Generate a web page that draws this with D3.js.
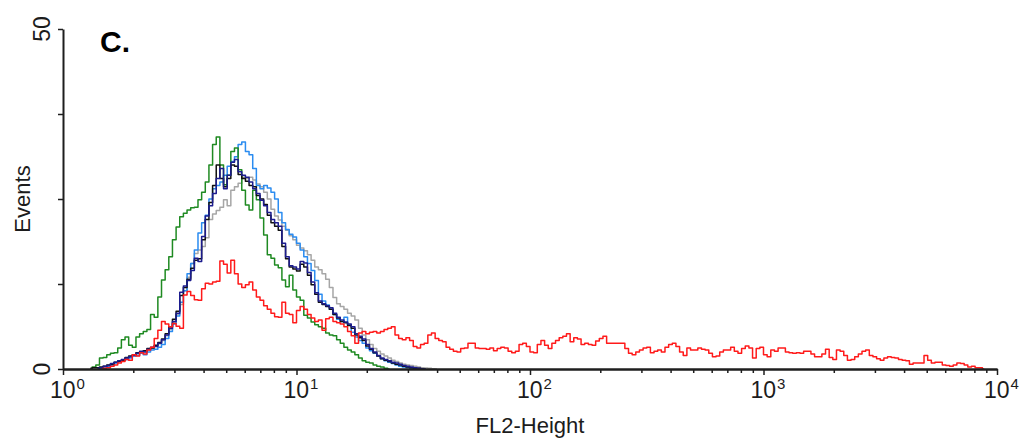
<!DOCTYPE html>
<html>
<head>
<meta charset="utf-8">
<script src="https://cdn.jsdelivr.net/npm/d3@7"></script>
<style>
  body { margin: 0; background: #fff; }
  svg { display: block; font-family: "Liberation Sans", Arial, sans-serif; }
</style>
</head>
<body>
<svg id="chart" width="1028" height="438"></svg>
<script>
// FL2-Height histograms: 256 log channels over 4 decades (64 channels per decade).
const channelsPerDecade = 64;
const xDecades = [1, 10, 100, 1000, 10000];
const xDecadeLabels = ["0", "1", "2", "3", "4"];   // exponents of the 10^n labels
const yTicks = [0, 12.5, 25, 37.5, 50];
const yTickLabels = ["0", "", "", "", "50"];

// Event counts per channel; each array starts at the given channel.
const grayStart = 9;
const grayCounts = [
  0, 0.1, 0.3, 0.5, 0.7, 0.9, 1.1, 1.3, 1.5, 1.8, 2.1,
  2.2, 2.4, 2.6, 2.8, 3.1, 3.4, 3.7, 4.2, 4.9, 5.8,
  6.8, 8.0, 9.5, 11.5, 13.5, 15.5, 17.0, 17.5, 18.0, 19.3,
  22.0, 22.8, 23.3, 23.8, 24.9, 24.0, 26.3, 26.8, 27.3, 28.2,
  28.0, 28.2, 27.8, 27.2, 26.8, 26.0, 25.0, 23.5, 22.5, 21.9,
  21.0, 20.4, 19.6, 19.0, 18.2, 17.8, 17.4, 16.8, 16.0, 15.0,
  14.6, 14.0, 13.2, 12.0, 10.5, 9.6, 9.2, 8.8, 8.2, 7.8,
  7.2, 6.0, 5.0, 4.3, 3.6, 3.0, 2.6, 2.2, 1.9, 1.6,
  1.3, 1.1, 0.9, 0.7, 0.6, 0.5, 0.4, 0.3, 0.2, 0.15,
  0.1, 0.05, 0
];

const lightBlueStart = 9;
const lightBlueCounts = [
  0, 0.1, 0.3, 0.4, 0.5, 0.9, 1.2, 1.3, 1.4, 1.6, 1.9,
  2.0, 2.3, 2.1, 2.5, 2.8, 2.9, 3.2, 3.6, 4.5, 5.5,
  6.6, 7.8, 9.8, 11.5, 14.0, 15.5, 17.5, 20.0, 21.5, 22.6,
  25.0, 26.5, 27.0, 27.5, 28.5, 29.8, 30.5, 31.2, 33.0, 33.4,
  32.0, 31.5, 29.5, 27.0, 26.5, 27.0, 26.6, 26.0, 25.0, 23.0,
  21.5, 20.5, 19.8, 19.4, 18.5, 17.5, 16.5, 15.5, 14.5, 13.0,
  11.0, 10.0, 9.4, 8.8, 8.0, 7.3, 7.0, 7.6, 6.5, 5.4,
  4.7, 4.2, 3.8, 3.1, 2.7, 2.3, 1.9, 1.5, 1.2, 1.0,
  0.8, 0.6, 0.4, 0.3, 0.2, 0.1, 0
];

const greenStart = 7;
const greenCounts = [
  0, 0.3, 0.6, 1.6, 1.7, 2.1, 2.3, 2.4, 3.1, 4.3, 4.7,
  3.5, 3.2, 4.7, 5.2, 5.5, 5.8, 8.0, 7.6, 10.6, 13.1,
  14.6, 16.5, 19.0, 20.9, 22.4, 22.9, 23.4, 23.7, 23.8, 24.9,
  26.0, 27.5, 30.0, 33.0, 34.1, 30.0, 27.1, 28.5, 32.0, 32.5,
  29.3, 26.3, 24.1, 23.4, 26.3, 24.9, 22.2, 19.7, 16.8, 16.3,
  15.3, 14.9, 13.1, 12.1, 13.8, 11.6, 10.6, 10.1, 7.9, 7.5,
  6.9, 6.5, 6.2, 6.0, 5.3, 5.0, 4.9, 4.3, 3.8, 3.2,
  2.8, 2.5, 2.1, 1.6, 1.2, 1.0, 0.9, 0.6, 0.4, 0.3,
  0.1, 0
];

const blackStart = 7;
const blackCounts = [
  0.1, 0.2, 0.2, 0.3, 0.4, 0.6, 0.7, 1.0, 1.1, 1.3, 1.7,
  1.9, 2.1, 2.4, 2.5, 2.7, 3.0, 3.1, 3.5, 3.9, 4.4,
  5.2, 6.2, 7.3, 8.5, 10.8, 12.0, 13.2, 14.8, 16.0, 16.2,
  19.0, 22.0, 24.5, 27.0, 30.0, 28.0, 26.8, 28.0, 30.0, 29.8,
  28.6, 28.0, 27.6, 27.0, 26.8, 25.5, 25.0, 24.2, 22.6, 21.5,
  21.0, 20.4, 18.0, 16.2, 15.0, 14.7, 14.4, 15.4, 15.0, 13.8,
  12.4, 11.0, 9.8, 9.5, 9.2, 8.8, 8.0, 7.5, 7.0, 6.8,
  6.4, 6.0, 5.0, 4.6, 4.2, 3.4, 2.9, 2.4, 1.9, 1.5,
  1.3, 1.1, 0.9, 0.7, 0.6, 0.4, 0.3, 0.2, 0.1, 0.1,
  0
];

const navyStart = 9;
const navyCounts = [
  0.1, 0.2, 0.4, 0.5, 0.8, 1.0, 1.2, 1.4, 1.6, 1.8, 2.0,
  2.3, 2.6, 2.5, 2.9, 3.2, 3.3, 3.8, 4.3, 5.0, 6.0,
  7.0, 8.2, 11.3, 12.2, 13.0, 14.5, 16.3, 15.8, 19.5, 22.5,
  24.0, 25.8, 28.0, 29.5, 26.5, 28.5, 30.4, 30.8, 29.0, 28.5,
  28.2, 27.5, 26.5, 25.8, 24.8, 24.0, 23.0, 22.0, 21.5, 21.0,
  18.5, 16.5, 15.2, 15.0, 14.7, 15.8, 15.6, 14.2, 12.8, 11.2,
  10.0, 9.6, 9.3, 9.0, 8.2, 7.6, 7.2, 6.9, 6.6, 6.2,
  5.2, 4.8, 4.4, 3.6, 3.0, 2.5, 2.0, 1.6, 1.4, 1.2,
  1.0, 0.9, 0.7, 0.5, 0.4, 0.3, 0.2, 0.1, 0.05, 0
];

const redStart = 10;
const redCounts = [
  0, 0.1, 0.2, 0.4, 0.6, 0.9, 1.1, 1.4, 1.3, 2.1,
  1.9, 2.4, 2.2, 2.8, 3.2, 4.5, 5.7, 7.0, 6.6, 6.2,
  6.7, 6.3, 6.0, 10.9, 11.4, 10.8, 10.2, 10.1, 11.8, 12.6,
  12.5, 12.8, 12.9, 15.9, 15.4, 14.1, 16.0, 14.0, 12.5, 12.0,
  12.4, 12.8, 11.6, 10.6, 10.1, 9.3, 8.8, 8.2, 7.7, 7.6,
  9.8, 8.2, 8.0, 6.8, 8.6, 9.2, 8.8, 8.0, 7.5, 7.0,
  7.2, 5.7, 7.4, 7.6, 7.0, 6.8, 6.6, 6.2, 5.5, 4.9,
  3.8, 5.3, 5.5, 5.2, 5.4, 5.5, 5.3, 5.5, 5.8, 6.0,
  6.2, 5.0, 4.5, 4.3, 4.6, 4.2, 3.3, 3.1, 3.6, 3.8,
  5.0, 5.3, 4.5, 4.2, 4.0, 3.2, 2.9, 2.6, 2.5, 3.0,
  3.1, 3.8, 3.8, 3.1, 3.0, 3.0, 2.9, 3.1, 2.7, 3.0,
  3.2, 3.1, 2.6, 2.4, 2.6, 3.6, 3.8, 3.3, 2.5, 2.4,
  3.6, 4.2, 3.5, 3.0, 3.8, 4.2, 4.6, 4.8, 5.2, 4.0,
  4.6, 4.4, 3.6, 3.8, 3.6, 3.5, 4.1, 4.5, 4.8, 3.8,
  3.8, 3.8, 3.8, 3.8, 3.0, 2.3, 2.1, 2.5, 2.8, 3.1,
  3.2, 2.4, 2.6, 2.8, 2.5, 3.2, 3.6, 3.8, 3.3, 2.5,
  2.0, 3.1, 2.8, 2.8, 3.1, 2.9, 2.8, 2.3, 1.8, 1.9,
  2.5, 2.8, 2.8, 3.2, 2.6, 2.3, 3.0, 3.4, 3.1, 1.6,
  3.0, 3.2, 2.1, 1.8, 2.8, 2.6, 3.1, 3.1, 2.5, 2.4,
  2.3, 2.4, 2.3, 2.6, 2.6, 2.2, 1.8, 1.8, 2.2, 2.9,
  1.7, 1.4, 2.8, 2.6, 2.0, 1.3, 1.4, 1.8, 2.2, 2.6,
  2.8, 2.0, 1.8, 1.5, 1.3, 1.6, 1.8, 1.7, 1.6, 1.4,
  1.3, 1.2, 0.7, 0.9, 0.9, 0.9, 2.0, 1.3, 0.9, 1.0,
  1.0, 0.6, 0.5, 0.4, 0.6, 0.9, 0.8, 0.6, 0.3, 0.4,
  0.2, 0.2, 0
];

// Drawing order (last on top) and stroke colours.
const series = [
  { start: grayStart,      counts: grayCounts,      color: "#a6a6a6" },
  { start: lightBlueStart, counts: lightBlueCounts, color: "#2b8cf0" },
  { start: greenStart,     counts: greenCounts,     color: "#1f8a22" },
  { start: blackStart,     counts: blackCounts,     color: "#111111" },
  { start: navyStart,      counts: navyCounts,      color: "#1c1c8e" },
  { start: redStart,       counts: redCounts,       color: "#ff1a1a" }
];

const svg = d3.select("#chart");
const x = d3.scaleLog().domain([1, 10000]).range([63, 997]);
const y = d3.scaleLinear().domain([0, 50]).range([369, 29]);
// channel centre on the log axis
const channelValue = ch => Math.pow(10, (ch + 0.5) / channelsPerDecade);

// Histogram traces drawn as channel steps
const line = d3.line()
  .x(d => x(channelValue(d.ch)))
  .y(d => y(d.v))
  .curve(d3.curveStep);

const traces = svg.append("g").attr("class", "traces");
series.forEach(s => {
  const pts = s.counts.map((v, k) => ({ ch: s.start + k, v }));
  traces.append("path")
    .datum(pts)
    .attr("fill", "none")
    .attr("stroke", s.color)
    .attr("stroke-width", 1.5)
    .attr("stroke-linejoin", "round")
    .attr("d", line);
});

// Axes
const minorTicks = [];
xDecades.slice(0, -1).forEach(d => { for (let k = 2; k <= 9; k++) minorTicks.push(d * k); });

const axisColor = "#1e1e1e";
const gxMinor = svg.append("g").attr("transform", "translate(0,369)")
  .call(d3.axisBottom(x).tickValues(minorTicks).tickSize(4).tickSizeOuter(0).tickFormat(""));
const gx = svg.append("g").attr("transform", "translate(0,369)")
  .call(d3.axisBottom(x).tickValues(xDecades).tickSize(6).tickSizeOuter(0).tickFormat(""));
const gy = svg.append("g").attr("transform", "translate(63,0)")
  .call(d3.axisLeft(y).tickValues(yTicks).tickSize(5).tickSizeOuter(0).tickFormat(""));

[gxMinor, gx, gy].forEach(g => {
  g.selectAll("path.domain").attr("stroke", axisColor).attr("stroke-width", 2);
  g.selectAll(".tick line").attr("stroke", axisColor).attr("stroke-width", 1.5);
});

const textColor = "#1c1c1c";

// x tick labels: 10 with superscript exponent
xDecades.forEach((d, i) => {
  const t = svg.append("text")
    .attr("x", x(d) - 13)
    .attr("y", 398)
    .attr("fill", textColor)
    .attr("font-size", 23);
  t.append("tspan").text("10");
  t.append("tspan")
    .attr("dx", 1)
    .attr("dy", -9)
    .attr("font-size", 15)
    .text(xDecadeLabels[i]);
});

// y tick labels, rotated
yTicks.forEach((v, i) => {
  if (!yTickLabels[i]) return;
  svg.append("text")
    .attr("transform", `translate(50,${y(v)}) rotate(-90)`)
    .attr("text-anchor", "middle")
    .attr("fill", textColor)
    .attr("font-size", 23)
    .text(yTickLabels[i]);
});

// Axis titles
svg.append("text")
  .attr("x", 530).attr("y", 433)
  .attr("text-anchor", "middle")
  .attr("fill", textColor)
  .attr("font-size", 22)
  .text("FL2-Height");

svg.append("text")
  .attr("transform", "translate(30,199) rotate(-90)")
  .attr("text-anchor", "middle")
  .attr("fill", textColor)
  .attr("font-size", 22)
  .text("Events");

// Panel letter
svg.append("text")
  .attr("x", 100).attr("y", 52)
  .attr("fill", "#000")
  .attr("font-size", 30)
  .attr("font-weight", "bold")
  .text("C.");
</script>
</body>
</html>
